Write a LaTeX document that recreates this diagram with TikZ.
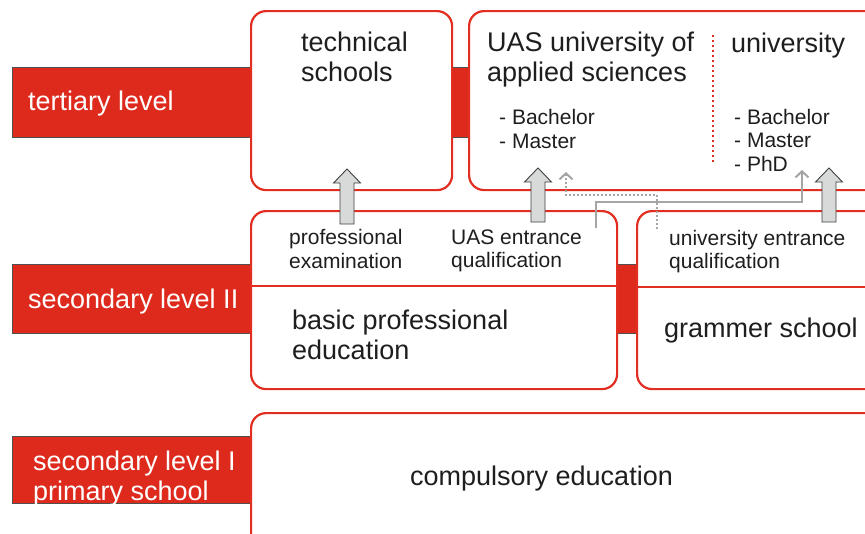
\documentclass[tikz,border=0pt]{standalone}
\usepackage{fontspec}
\setmainfont{Liberation Sans}
\usetikzlibrary{arrows, arrows.meta}
\usetikzlibrary{calc}

\definecolor{bandred}{RGB}{221,42,29}
\definecolor{boxred}{RGB}{226,45,33}
\definecolor{bandedge}{RGB}{80,80,80}
\definecolor{inktext}{RGB}{30,30,30}
\definecolor{arrowfill}{RGB}{216,218,218}
\definecolor{arrowedge}{RGB}{64,64,64}
\definecolor{pathgray}{RGB}{165,165,165}

\tikzset{
  levelband/.style={fill=bandred, draw=bandedge, line width=0.8pt, inner sep=0pt, anchor=north west, minimum width=880pt},
  schoolbox/.style={fill=white, draw=boxred, line width=2.2pt, rounded corners=15pt, inner sep=0pt, anchor=north west},
  boxline/.style={draw=boxred, line width=2.2pt},
  bigtext/.style={font=\fontsize{27}{30}\selectfont, text=inktext, inner sep=0pt, anchor=west},
  smalltext/.style={font=\fontsize{21}{23.5}\selectfont, text=inktext, inner sep=0pt, anchor=west},
  blockarrow/.style={fill=arrowfill, draw=arrowedge, line width=0.9pt, line join=miter},
  routeline/.style={draw=pathgray, line width=2pt, -{Straight Barb[length=6pt, width=13pt]}},
  routedots/.style={routeline, dash pattern=on 2pt off 2pt}
}

\begin{document}
\begin{tikzpicture}[x=1pt, y=-1pt]
  \useasboundingbox (0,0) rectangle (865,533);
  \clip (0,0) rectangle (865,533);

  \node[levelband, minimum height=70pt] (tertiaryband) at (12,67) {};
  \node[levelband, minimum height=69pt] (secondband) at (12,264) {};
  \node[levelband, minimum height=67pt] (firstband) at (12,436) {};

  \node[schoolbox, minimum width=201pt, minimum height=179pt] (techbox) at (250,10) {};
  \node[schoolbox, minimum width=450pt, minimum height=179pt] (unibox) at (468,10) {};
  \node[schoolbox, minimum width=366pt, minimum height=178pt] (basicbox) at (250,210) {};
  \node[schoolbox, minimum width=260pt, minimum height=178pt] (gymbox) at (636,210) {};
  \node[schoolbox, minimum width=650pt, minimum height=160pt] (compbox) at (250,412) {};

  \draw[boxline] (250,286) -- (616,286);
  \draw[boxline] (636,287) -- (880,287);
  \draw[boxred, line width=1.2pt, dash pattern=on 1.5pt off 3.5pt] (713,35) -- (713,163);

  \node[bigtext, text=white] (tertiarylabel) at (28,104) {tertiary level};
  \node[bigtext, text=white] (secondlabel) at (28,302) {secondary level II};
  \node[bigtext, text=white, align=left] (firstlabel) at (33,479) {secondary level I\\primary school};

  \node[bigtext, align=left] (techlabel) at (301,57) {technical\\schools};
  \node[bigtext, align=left] (uaslabel) at (487,59.5) {UAS university of\\applied sciences};
  \node[bigtext] (unilabel) at (731,46) {university};
  \node[smalltext, align=left] (uasdegrees) at (499,129) {- Bachelor\\- Master};
  \node[smalltext, align=left] (unidegrees) at (734,140) {- Bachelor\\- Master\\- PhD};

  \node[smalltext, align=left] (examlabel) at (289,249) {professional\\examination};
  \node[smalltext, align=left] (uasquali) at (451,251) {UAS entrance\\qualification};
  \node[smalltext, align=left] (uniquali) at (669,251.5) {university entrance\\qualification};
  \node[bigtext, align=left] (basiclabel) at (292,335) {basic professional\\education};
  \node[bigtext] (gymlabel) at (664,331) {grammer school};
  \node[bigtext] (complabel) at (410,479) {compulsory education};

  \coordinate (unidotstart) at (657,229);
  \coordinate (uasdotend) at (566,172);
  \coordinate (uasrunstart) at (596,228);
  \coordinate (unirunend) at (802,170);
  \draw[routedots] (unidotstart) -- ++(0,-34) -| (uasdotend);
  \draw[routeline] (uasrunstart) -- ++(0,-26) -| (unirunend);

  \foreach \ax/\atip/\abot in {347/169/224, 538/168/222, 829/168/222}
    \draw[blockarrow] (\ax-7,\abot) -- (\ax-7,\atip+14) -- (\ax-13.5,\atip+14) -- (\ax,\atip)
      -- (\ax+13.5,\atip+14) -- (\ax+7,\atip+14) -- (\ax+7,\abot) -- cycle;
\end{tikzpicture}
\end{document}
